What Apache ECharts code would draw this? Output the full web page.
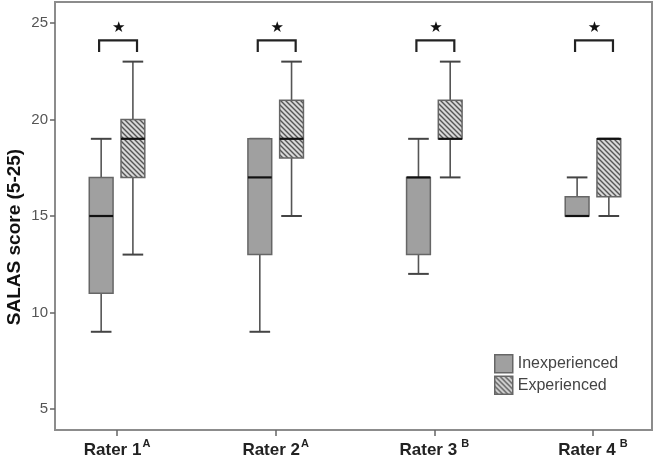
<!DOCTYPE html>
<html><head><meta charset="utf-8">
<script src="https://cdn.jsdelivr.net/npm/echarts@6/dist/echarts.min.js"></script>
<style>html,body{margin:0;padding:0;background:#fff}#c{width:657px;height:461px}</style>
</head><body><div id="c"></div>
<script>
// ---- data ----
const categories = ['Rater 1', 'Rater 2', 'Rater 3', 'Rater 4'];
const superscripts = ['A', 'A', ' B', ' B'];
const seriesNames = ['Inexperienced', 'Experienced'];
// [min, Q1, median, Q3, max]
const inexperienced = [[9, 11, 15, 17, 19], [9, 13, 17, 19, 19], [12, 13, 17, 17, 19], [15, 15, 15, 16, 17]];
const experienced = [[13, 17, 19, 20, 23], [15, 18, 19, 21, 23], [17, 19, 19, 21, 23], [15, 16, 19, 19, 19]];
const yTicks = [5, 10, 15, 20, 25];
const significance = ['★', '★', '★', '★'];
const bracketTop = 24.1, bracketEnd = 23.5, starLevel = 24.75;
const yAxisTitle = 'SALAS score (5-25)';

// hatch pattern
function hatch() {
  const c = document.createElement('canvas');
  c.width = 5; c.height = 5;
  const g = c.getContext('2d');
  g.fillStyle = '#d8d8d8'; g.fillRect(0, 0, 5, 5);
  g.strokeStyle = '#555'; g.lineWidth = 1.4;
  g.beginPath();
  g.moveTo(-1, -1); g.lineTo(6, 6);
  g.moveTo(-1, 4); g.lineTo(1, 6);
  g.moveTo(4, -1); g.lineTo(6, 1);
  g.stroke();
  return c;
}
const hatchPattern = { image: hatch(), repeat: 'repeat' };
const solidFill = '#a0a0a0';

const positions = categories.map((_, i) => i + 1);
const OFFSET = 0.1, BOXW = 0.15, CAPW = 0.065;

function boxRender(offset, fill) {
  return function (params, api) {
    const x = api.value(0) + offset;
    const vals = [api.value(1), api.value(2), api.value(3), api.value(4), api.value(5)];
    const pMin = api.coord([x, vals[0]]), pQ1 = api.coord([x, vals[1]]), pMed = api.coord([x, vals[2]]);
    const pQ3 = api.coord([x, vals[3]]), pMax = api.coord([x, vals[4]]);
    const l = api.coord([x - BOXW / 2, vals[1]])[0], r = api.coord([x + BOXW / 2, vals[1]])[0];
    const cl = api.coord([x - CAPW, vals[0]])[0], cr = api.coord([x + CAPW, vals[0]])[0];
    const line = { stroke: '#555', lineWidth: 1.6 };
    const children = [];
    if (vals[4] > vals[3]) {
      children.push({ type: 'line', shape: { x1: pMax[0], y1: pMax[1], x2: pQ3[0], y2: pQ3[1] }, style: line });
    }
    children.push({ type: 'line', shape: { x1: cl, y1: pMax[1], x2: cr, y2: pMax[1] }, style: { stroke: '#444', lineWidth: 2 } });
    if (vals[1] > vals[0]) {
      children.push({ type: 'line', shape: { x1: pMin[0], y1: pMin[1], x2: pQ1[0], y2: pQ1[1] }, style: line });
    }
    children.push({ type: 'line', shape: { x1: cl, y1: pMin[1], x2: cr, y2: pMin[1] }, style: { stroke: '#444', lineWidth: 2 } });
    children.push({ type: 'rect', shape: { x: l, y: pQ3[1], width: r - l, height: pQ1[1] - pQ3[1] }, style: { fill: fill, stroke: '#666', lineWidth: 1.5 } });
    children.push({ type: 'line', shape: { x1: l, y1: pMed[1], x2: r, y2: pMed[1] }, style: { stroke: '#111', lineWidth: 2.2 } });
    return { type: 'group', children: children };
  };
}

function toData(arr) { return arr.map((v, i) => [positions[i]].concat(v)); }

const chart = echarts.init(document.getElementById('c'), null, { renderer: 'canvas' });
const font = '"Liberation Sans Narrow", "Arial Narrow", "Liberation Sans", Arial, sans-serif';

chart.setOption({
  animation: false,
  backgroundColor: '#fff',
  grid: { left: 55, right: 5, top: 2, bottom: 31, show: true, borderColor: '#8c8c8c', borderWidth: 2, backgroundColor: 'transparent' },
  legend: {
    orient: 'vertical', left: 489, top: 349, itemWidth: 18, itemHeight: 18, itemGap: 2,
    icon: 'rect',
    textStyle: { fontFamily: font, fontSize: 16, color: '#444' },
    data: [
      { name: seriesNames[0], itemStyle: { color: solidFill, borderColor: '#666', borderWidth: 1.5 } },
      { name: seriesNames[1], itemStyle: { color: hatchPattern, borderColor: '#666', borderWidth: 1.5 } }
    ]
  },
  xAxis: {
    type: 'value', min: 0.609, max: 4.372,
    splitLine: { show: false },
    axisLine: { show: false },
    axisTick: { show: true, customValues: positions, length: 6, lineStyle: { color: '#666', width: 1.5 } },
    axisLabel: {
      customValues: positions, margin: 8,
      formatter: function (v) {
        const i = Math.round(v) - 1;
        return '{a|' + categories[i] + '}{s|' + superscripts[i] + '}';
      },
      rich: {
        a: { fontFamily: font, fontSize: 17, fontWeight: 'bold', color: '#222', lineHeight: 21, verticalAlign: 'bottom' },
        s: { fontFamily: font, fontSize: 11, fontWeight: 'bold', color: '#222', lineHeight: 21, verticalAlign: 'top', padding: [0, 0, 8, 1] }
      }
    }
  },
  yAxis: {
    type: 'value', min: 3.91, max: 26.09,
    splitLine: { show: false },
    axisLine: { show: false },
    axisTick: { show: true, customValues: yTicks, length: 5, lineStyle: { color: '#666', width: 1.5 } },
    axisLabel: { customValues: yTicks, margin: 7, fontFamily: font, fontSize: 15, color: '#555' }
  },
  graphic: [{
    type: 'text', x: 15, y: 237, rotation: Math.PI / 2,
    style: { text: yAxisTitle, fontFamily: font, fontSize: 19, fontWeight: 'bold', fill: '#111', align: 'center', verticalAlign: 'middle' }
  }],
  series: [
    {
      name: seriesNames[0], type: 'custom', itemStyle: { color: solidFill },
      renderItem: boxRender(-OFFSET, solidFill),
      encode: { x: 0, y: [1, 2, 3, 4, 5] },
      data: toData(inexperienced)
    },
    {
      name: seriesNames[1], type: 'custom', itemStyle: { color: hatchPattern },
      renderItem: boxRender(OFFSET, hatchPattern),
      encode: { x: 0, y: [1, 2, 3, 4, 5] },
      data: toData(experienced)
    },
    {
      name: 'significance', type: 'custom', silent: true,
      renderItem: function (params, api) {
        const x = api.value(0);
        const a = api.coord([x - 0.113, bracketEnd]), b = api.coord([x - 0.113, bracketTop]);
        const c = api.coord([x + 0.126, bracketTop]), d = api.coord([x + 0.126, bracketEnd]);
        const s = api.coord([x + 0.01, starLevel]);
        return {
          type: 'group', children: [
            { type: 'polyline', shape: { points: [a, b, c, d] }, style: { stroke: '#222', lineWidth: 2.2, fill: null } },
            { type: 'text', x: s[0], y: s[1], style: { text: significance[params.dataIndex], fontSize: 15, fill: '#111', align: 'center', verticalAlign: 'middle', fontFamily: 'DejaVu Sans' } }
          ]
        };
      },
      encode: { x: 0, y: 1 },
      data: positions.map(p => [p, bracketTop])
    }
  ]
});
</script></body></html>
